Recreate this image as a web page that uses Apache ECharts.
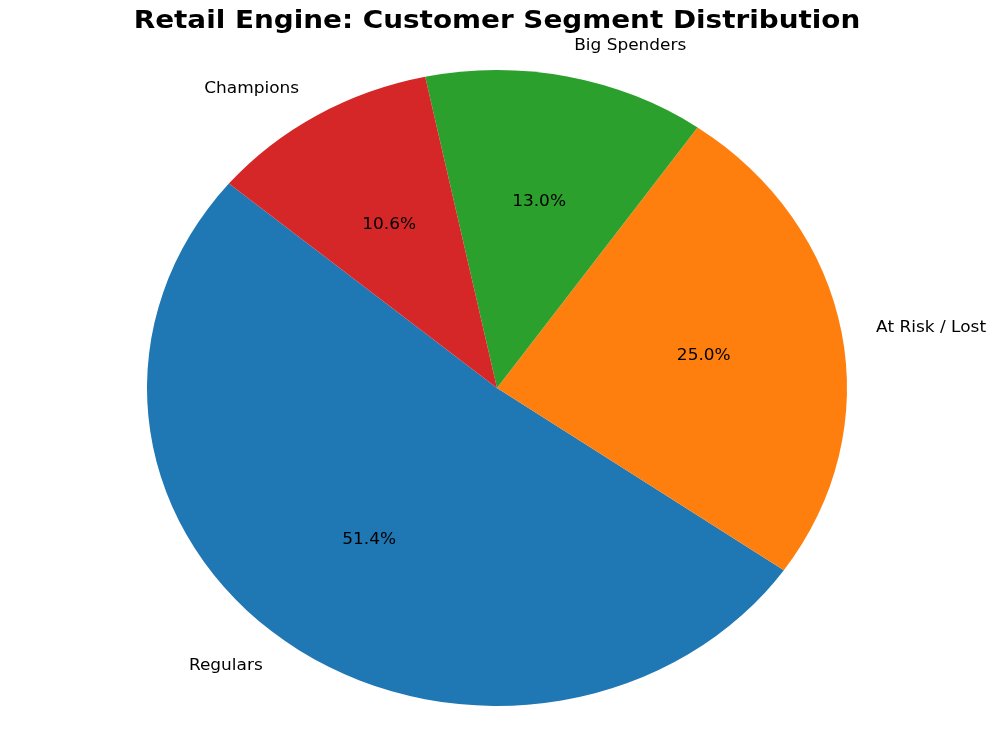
<!DOCTYPE html>
<html>
<head>
<meta charset="utf-8">
<script src="https://cdn.jsdelivr.net/npm/echarts@6/dist/echarts.min.js"></script>
<style>html,body{margin:0;padding:0;background:#fff}#chart{width:1000px;height:750px}</style>
</head>
<body>
<div id="chart"></div>
<script>
const categories = ['Regulars', 'At Risk / Lost', 'Big Spenders', 'Champions'];
const values = [51.4, 25.0, 13.0, 10.6];
const colors = ['#1f77b4', '#ff7f0e', '#2ca02c', '#d62728'];
const titleText = 'Retail Engine: Customer Segment Distribution';

const CX = 497, CY = 388, RX = 350, RY = 318;
const START_DEG = 140;
const FONT = '"DejaVu Sans", sans-serif';
const TX_SCALE = 1.13;
const TITLE_SCALE = 1.16;

const total = values.reduce((a, b) => a + b, 0);
const cum = [];
values.reduce((acc, v, i) => { cum[i] = acc; return acc + v; }, 0);

const chart = echarts.init(document.getElementById('chart'));
chart.setOption({
  animation: false,
  graphic: [{
    type: 'text',
    x: CX, y: 22, originX: 0, originY: 0, scaleX: TITLE_SCALE,
    style: { text: titleText, fill: '#000', font: 'bold 24px ' + FONT, align: 'center', verticalAlign: 'middle' }
  }],
  series: [{
    type: 'custom',
    coordinateSystem: 'none',
    data: values.map((v, i) => ({ value: v, name: categories[i] })),
    renderItem: function (params, api) {
      const i = params.dataIndex;
      const v = api.value(0);
      const a1 = START_DEG + cum[i] / total * 360;
      const a2 = a1 + v / total * 360;
      const mid = (a1 + a2) / 2 * Math.PI / 180;
      const c = Math.cos(mid), s = Math.sin(mid);
      const pct = (v / total * 100).toFixed(1) + '%';
      const px = CX + c * 0.6 * RX, py = CY - s * 0.6 * RY + 1;
      const lx = CX + c * 1.1 * RX, ly = CY - s * 1.1 * RY + 1;
      return {
        type: 'group',
        children: [
          {
            type: 'sector',
            shape: { cx: CX, cy: CY, r: RX, r0: 0,
              startAngle: -a1 * Math.PI / 180, endAngle: -a2 * Math.PI / 180, clockwise: false },
            originX: CX, originY: CY, scaleY: RY / RX,
            style: { fill: colors[i] }
          },
          {
            type: 'text',
            x: px, y: py, originX: 0, originY: 0, scaleX: TX_SCALE,
            style: { text: pct, fill: '#000', font: '15px ' + FONT, align: 'center', verticalAlign: 'middle' }
          },
          {
            type: 'text',
            x: lx, y: ly, originX: 0, originY: 0, scaleX: TX_SCALE,
            style: { text: categories[i], fill: '#000', font: '15px ' + FONT,
              align: c >= 0 ? 'left' : 'right', verticalAlign: 'middle' }
          }
        ]
      };
    }
  }]
});
</script>
</body>
</html>
